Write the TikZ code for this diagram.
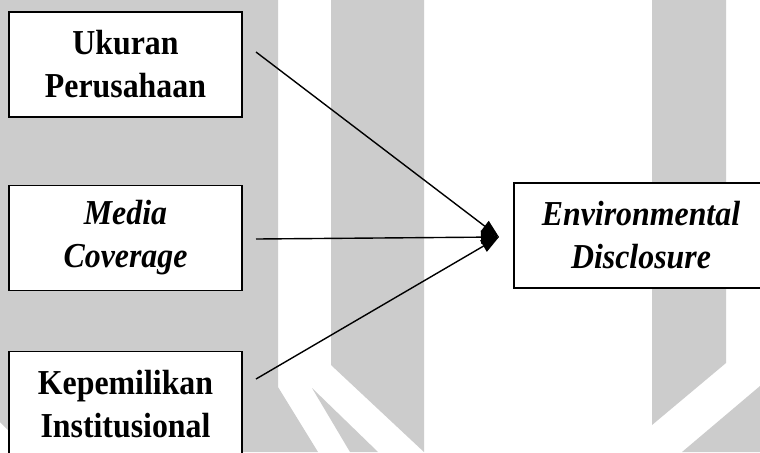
\documentclass[tikz,border=0pt]{standalone}
\usepackage{fontspec}
\setmainfont{Liberation Serif}[FakeStretch=0.91]
\usetikzlibrary{arrows.meta}

\begin{document}
\begin{tikzpicture}[x=0.5pt, y=-0.5pt, >={Triangle[length=9pt, width=6.5pt]},
    varbox/.style={draw=black, line width=0.9pt, fill=white, align=center,
        minimum width=116.5pt, minimum height=52.5pt,
        font=\fontsize{17.5}{21.5}\selectfont\bfseries},
    varboxit/.style={varbox, font=\fontsize{17.5}{21.5}\selectfont\bfseries\itshape},
    link/.style={->, line width=0.7pt}]

    % ==========================================
    % 1. BACKGROUND (grey watermark shapes)
    % ==========================================
    \useasboundingbox (0,0) rectangle (760,452);
    \fill[white] (0,0) rectangle (760,452);

    % Left block with the split at its foot
    \fill[gray!40] (0,0) -- (278,0) -- (278,387) -- (318,452)
        -- (30,452) -- (0,422) -- cycle;
    \fill[gray!40] (312,388) -- (378,452) -- (350,452) -- cycle;

    % Middle column
    \fill[gray!40] (331,0) -- (424,0) -- (424,452) -- (331,365) -- cycle;

    % Right column and corner
    \fill[gray!40] (652,0) -- (726,0) -- (726,363) -- (652,425) -- cycle;
    \fill[gray!40] (760,386) -- (760,452) -- (682,452) -- cycle;

    % ==========================================
    % 2. VARIABLE BOXES
    % ==========================================
    \node[varbox]   (ukuran)      at (125.5,64.5) {Ukuran\\Perusahaan};
    \node[varboxit] (media)       at (125.5,238)  {Media\\Coverage};
    \node[varbox]   (kepemilikan) at (125.5,404)  {Kepemilikan\\Institusional};

    \node[varboxit, minimum width=127pt] (disclosure) at (641,235.5)
        {Environmental\\Disclosure};

    % ==========================================
    % 3. CONNECTORS
    % ==========================================
    \coordinate (ukuran-out)      at (256,52);
    \coordinate (media-out)       at (256,239);
    \coordinate (kepemilikan-out) at (256,379);
    \coordinate (meet)            at (499,237);

    \draw[link] (ukuran-out) -- (meet);
    \draw[link] (media-out) -- (meet);
    \draw[link] (kepemilikan-out) -- (meet);

\end{tikzpicture}
\end{document}
